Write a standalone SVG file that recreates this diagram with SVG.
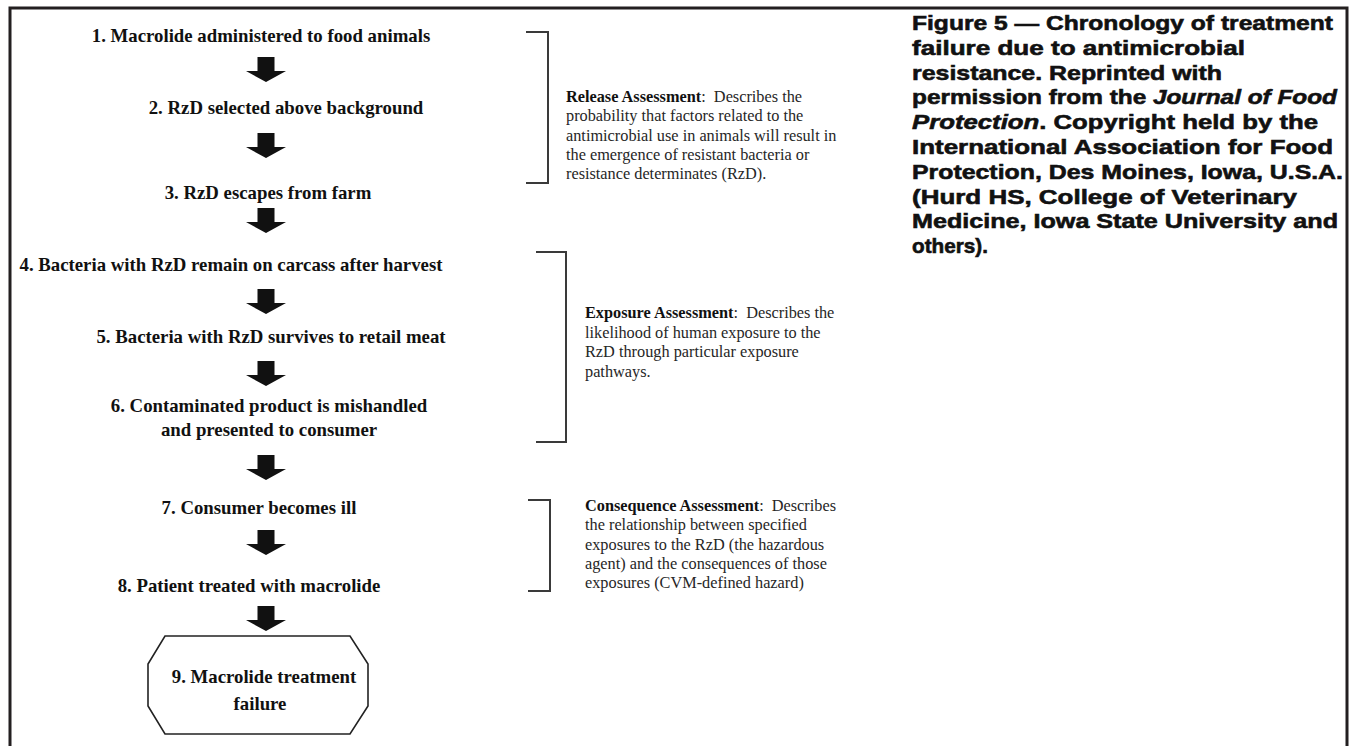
<svg xmlns="http://www.w3.org/2000/svg" width="1350" height="746" viewBox="0 0 1350 746">
  <style>
    .step { font-family: "Liberation Serif", "Times New Roman", serif; font-weight: bold; font-size: 18.8px; fill: #111; text-anchor: middle; }
    .note { font-family: "Liberation Serif", "Times New Roman", serif; font-size: 16.3px; fill: #262626; }
    .note .hd { font-weight: bold; fill: #111; }
    .cap { font-family: "Liberation Sans", Arial, sans-serif; font-weight: bold; font-size: 21px; fill: #111; stroke: #111; stroke-width: 0.6; }
    .cap .it { font-style: italic; }
    .brace { fill: none; stroke: #3a3a3a; stroke-width: 2; }
    .frame { fill: none; stroke: #231f20; stroke-width: 3; }
    .box { fill: #fff; stroke: #222; stroke-width: 1.6; }
  </style>
  <defs>
    <!-- thick block arrow, origin at top centre -->
    <path id="blk" d="M-8.5,0 H8.5 V14 H20 L0,25 L-20,14 H-8.5 Z" fill="#111"/>
  </defs>

  <rect width="1350" height="746" fill="#fff"/>
  <path class="frame" d="M10,750 V8 H1347 V750"/>

  <!-- flow steps -->
  <g id="step1"><text class="step" x="261" y="42">1. Macrolide administered to food animals</text></g>
  <g id="step2"><text class="step" x="286" y="114">2. RzD selected above background</text></g>
  <g id="step3"><text class="step" x="268" y="199">3. RzD escapes from farm</text></g>
  <g id="step4"><text class="step" x="231" y="271">4. Bacteria with RzD remain on carcass after harvest</text></g>
  <g id="step5"><text class="step" x="271" y="343">5. Bacteria with RzD survives to retail meat</text></g>
  <g id="step6">
    <text class="step" x="269" y="412">6. Contaminated product is mishandled</text>
    <text class="step" x="269" y="436">and presented to consumer</text>
  </g>
  <g id="step7"><text class="step" x="259" y="514">7. Consumer becomes ill</text></g>
  <g id="step8"><text class="step" x="249" y="592">8. Patient treated with macrolide</text></g>
  <g id="step9">
    <path class="box" d="M165,636 H350 L368,664 V706 L350,734 H165 L148,706 V664 Z"/>
    <text class="step" x="264" y="683">9. Macrolide treatment</text>
    <text class="step" x="260" y="710">failure</text>
  </g>

  <!-- connectors -->
  <g id="connectors">
    <use href="#blk" x="266" y="57"/>
    <use href="#blk" x="266" y="133"/>
    <use href="#blk" x="266" y="208"/>
    <use href="#blk" x="266" y="289"/>
    <use href="#blk" x="266" y="361"/>
    <use href="#blk" x="266" y="455"/>
    <use href="#blk" x="266" y="530"/>
    <use href="#blk" x="266" y="606"/>
  </g>

  <!-- assessment stages -->
  <g id="release">
    <path class="brace" d="M526,32 H548 V183 H526"/>
    <text class="note">
      <tspan x="566" y="102"><tspan class="hd">Release Assessment</tspan>:&#160; Describes the</tspan>
      <tspan x="566" y="121.3">probability that factors related to the</tspan>
      <tspan x="566" y="140.6">antimicrobial use in animals will result in</tspan>
      <tspan x="566" y="160">the emergence of resistant bacteria or</tspan>
      <tspan x="566" y="179">resistance determinates (RzD).</tspan>
    </text>
  </g>
  <g id="exposure">
    <path class="brace" d="M536,252 H566 V442 H536"/>
    <text class="note">
      <tspan x="585" y="318"><tspan class="hd">Exposure Assessment</tspan>:&#160; Describes the</tspan>
      <tspan x="585" y="337.5">likelihood of human exposure to the</tspan>
      <tspan x="585" y="357">RzD through particular exposure</tspan>
      <tspan x="585" y="376.5">pathways.</tspan>
    </text>
  </g>
  <g id="consequence">
    <path class="brace" d="M528,500 H550 V591 H528"/>
    <text class="note">
      <tspan x="585" y="511"><tspan class="hd">Consequence Assessment</tspan>:&#160; Describes</tspan>
      <tspan x="585" y="530">the relationship between specified</tspan>
      <tspan x="585" y="549.5">exposures to the RzD (the hazardous</tspan>
      <tspan x="585" y="569">agent) and the consequences of those</tspan>
      <tspan x="585" y="588">exposures (CVM-defined hazard)</tspan>
    </text>
  </g>

  <!-- figure caption -->
  <g id="caption" class="cap">
    <text x="912" y="30" textLength="421" lengthAdjust="spacingAndGlyphs">Figure 5 — Chronology of treatment</text>
    <text x="912" y="54.8" textLength="333" lengthAdjust="spacingAndGlyphs">failure due to antimicrobial</text>
    <text x="912" y="79.6" textLength="310" lengthAdjust="spacingAndGlyphs">resistance. Reprinted with</text>
    <text x="912" y="104.4" textLength="425" lengthAdjust="spacingAndGlyphs">permission from the <tspan class="it">Journal of Food</tspan></text>
    <text x="912" y="129.2" textLength="406" lengthAdjust="spacingAndGlyphs"><tspan class="it">Protection</tspan>. Copyright held by the</text>
    <text x="912" y="154" textLength="421" lengthAdjust="spacingAndGlyphs">International Association for Food</text>
    <text x="912" y="178.8" textLength="431" lengthAdjust="spacingAndGlyphs">Protection, Des Moines, Iowa, U.S.A.</text>
    <text x="912" y="203.6" textLength="385" lengthAdjust="spacingAndGlyphs">(Hurd HS, College of Veterinary</text>
    <text x="912" y="228.4" textLength="426" lengthAdjust="spacingAndGlyphs">Medicine, Iowa State University and</text>
    <text x="912" y="253.2" textLength="76" lengthAdjust="spacingAndGlyphs">others).</text>
  </g>
</svg>
